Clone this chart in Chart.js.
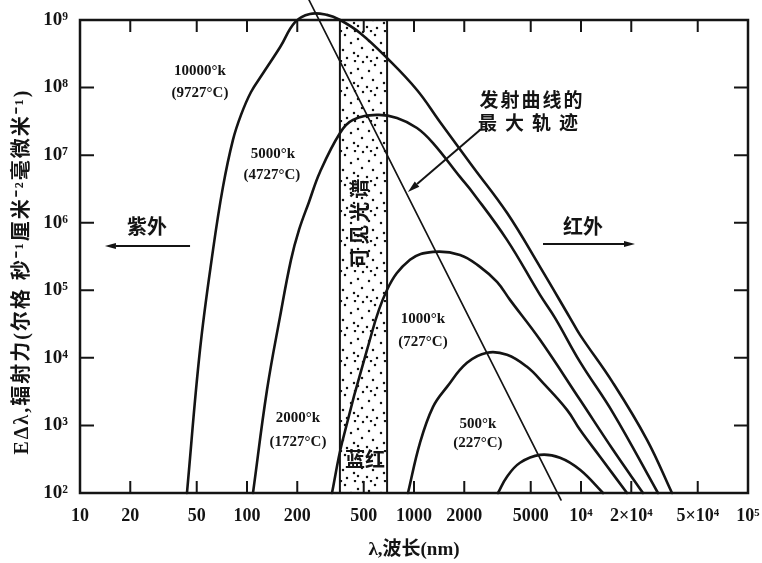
<!DOCTYPE html>
<html>
<head>
<meta charset="utf-8">
<script src="https://cdn.jsdelivr.net/npm/chart.js@4/dist/chart.umd.min.js"></script>
<style>
html,body{margin:0;padding:0;background:#fff;}
#wrap{width:762px;height:563px;position:relative;}
</style>
</head>
<body>
<div id="wrap"><canvas id="c"></canvas></div>
<script>
// ---------- data ----------
// wavelength in nm, emissive power in erg·s⁻¹·cm⁻²·nm⁻¹
const wl10000 = [43.7, 52.3, 62.6, 71.8, 82.4, 92.1, 105.7, 125, 158, 194, 238, 301, 361, 475, 689, 1042, 1431, 2256, 3605, 5683, 8594, 9863, 15545, 24846, 35060];
const em10000 = [100, 1.31e4, 3.96e5, 3.39e6, 1.68e7, 3.94e7, 8.6e7, 1.64e8, 3.98e8, 9.3e8, 1.23e9, 1.19e9, 1.0e9, 6.43e8, 2.74e8, 9.2e7, 3.1e7, 6.69e6, 1.40e6, 2.22e5, 3.91e4, 2.19e4, 4266, 612, 100];

const wl5000 = [108.6, 131.8, 157.6, 183.4, 204.8, 235.1, 273.6, 360.6, 431, 600, 791, 1042, 1300, 1886, 2256, 3605, 5683, 6987, 9863, 15545, 28906];
const em5000 = [100, 3365, 4.04e4, 2.82e5, 7.82e5, 2.03e6, 5.64e6, 2.13e7, 3.32e7, 3.94e7, 3.55e7, 2.52e7, 1.51e7, 4.77e6, 2.76e6, 5.57e5, 8.55e4, 3.91e4, 8730, 1535, 100];

const wl2000 = [322.8, 370.7, 523, 689, 946, 1300, 1886, 2485, 3141, 3757, 5683, 9863, 15545, 23510];
const em2000 = [100, 553, 1.31e4, 1.01e5, 2.82e5, 3.70e5, 3.34e5, 2.22e5, 1.33e5, 7.21e4, 1.85e4, 2393, 436, 100];

const wl1000 = [920, 1086, 1300, 1576, 2077, 2736, 3605, 4749, 5923, 8247, 9863, 13000, 18856];
const em1000 = [100, 553, 1884, 3724, 8435, 1.19e4, 1.11e4, 7362, 4266, 1702, 861, 344, 100];

const wl500 = [3184, 3605, 4313, 5683, 7486, 9863, 13546];
const em500 = [100, 174, 280, 367, 332, 220, 100];

// locus of the maxima of the emission curves
const wlLocus = [235, 7586];
const emLocus = [1.98e9, 79];

// visible spectrum band (nm)
const visibleBand = [360, 690];

// axis ticks
const xTicks = [10, 20, 50, 100, 200, 500, 1000, 2000, 5000, 1e4, 2e4, 5e4, 1e5];
const xTickLabels = ['10', '20', '50', '100', '200', '500', '1000', '2000', '5000', '10⁴', '2×10⁴', '5×10⁴', '10⁵'];
const yTicks = [1e2, 1e3, 1e4, 1e5, 1e6, 1e7, 1e8, 1e9];
const yTickLabels = ['10²', '10³', '10⁴', '10⁵', '10⁶', '10⁷', '10⁸', '10⁹'];

// ---------- annotation layout (in data coordinates) ----------
const curveTexts = [
  ['10000°k', 52.3, 1.76e8], ['(9727°C)', 52.3, 8.3e7],
  ['5000°k', 143, 1.04e7], ['(4727°C)', 141, 5.1e6],
  ['2000°k', 202, 1294], ['(1727°C)', 202, 571],
  ['1000°k', 1132, 3.78e4], ['(727°C)', 1132, 1.73e4],
  ['500°k', 2415, 1057], ['(227°C)', 2415, 553]
];

const ink = '#141414';
const serif = "'Liberation Serif','DejaVu Serif',serif";
const mixed = "'Liberation Serif','Noto Sans CJK SC',sans-serif";

function pairs(xs, ys) { return xs.map((v, i) => ({x: v, y: ys[i]})); }
function lookup(list, labels, v) {
  for (let i = 0; i < list.length; i++) {
    if (Math.abs(Math.log10(list[i]) - Math.log10(v)) < 1e-6) return labels[i];
  }
  return '';
}

function curve(label, xs, ys, width, tension) {
  return {
    label, data: pairs(xs, ys), borderColor: ink, borderWidth: width,
    pointRadius: 0, fill: false, tension: tension,
    capBezierPoints: false, clip: false, borderJoinStyle: 'round', borderCapStyle: 'round'
  };
}

function makePattern(ctx) {
  const t = document.createElement('canvas');
  t.width = 30; t.height = 30;
  const g = t.getContext('2d');
  g.fillStyle = ink;
  const spots = [[3,2],[15,5],[25,1],[9,11],[21,13],[28,9],[2,18],[13,20],[24,23],[7,27],[17,28],[28,26],[11,1]];
  spots.forEach(([a, b]) => { g.beginPath(); g.arc(a, b, 1.25, 0, Math.PI * 2); g.fill(); });
  return ctx.createPattern(t, 'repeat');
}

function arrow(ctx, x1, y1, x2, y2, lw, head, half) {
  const ang = Math.atan2(y2 - y1, x2 - x1);
  const bx = x2 - head * Math.cos(ang), by = y2 - head * Math.sin(ang);
  ctx.lineWidth = lw;
  ctx.beginPath(); ctx.moveTo(x1, y1); ctx.lineTo(bx, by); ctx.stroke();
  ctx.beginPath(); ctx.moveTo(x2, y2);
  ctx.lineTo(bx + half * Math.sin(ang), by - half * Math.cos(ang));
  ctx.lineTo(bx - half * Math.sin(ang), by + half * Math.cos(ang));
  ctx.closePath(); ctx.fill();
}

const bandPlugin = {
  id: 'band',
  beforeDatasetsDraw(chart) {
    const {ctx, chartArea: a, scales: {x}} = chart;
    const l = x.getPixelForValue(visibleBand[0]);
    const r = x.getPixelForValue(visibleBand[1]);
    ctx.save();
    ctx.fillStyle = makePattern(ctx);
    ctx.fillRect(l, a.top, r - l, a.bottom - a.top);
    ctx.strokeStyle = ink; ctx.lineWidth = 2;
    ctx.beginPath();
    ctx.moveTo(l, a.top); ctx.lineTo(l, a.bottom);
    ctx.moveTo(r, a.top); ctx.lineTo(r, a.bottom);
    ctx.stroke();
    ctx.restore();
  }
};

const framePlugin = {
  id: 'frame',
  afterDatasetsDraw(chart) {
    const {ctx, chartArea: a, scales: {x, y}} = chart;
    ctx.save();
    ctx.strokeStyle = ink; ctx.fillStyle = ink;
    ctx.lineWidth = 2.5;
    ctx.strokeRect(a.left, a.top, a.right - a.left, a.bottom - a.top);
    ctx.lineWidth = 2;
    ctx.beginPath();
    xTicks.slice(1, -1).forEach(v => {
      const p = x.getPixelForValue(v);
      ctx.moveTo(p, a.bottom); ctx.lineTo(p, a.bottom - 12);
      ctx.moveTo(p, a.top); ctx.lineTo(p, a.top + 12);
    });
    yTicks.slice(1, -1).forEach(v => {
      const p = y.getPixelForValue(v);
      ctx.moveTo(a.left, p); ctx.lineTo(a.left + 14, p);
      ctx.moveTo(a.right, p); ctx.lineTo(a.right - 14, p);
    });
    ctx.stroke();

    const X = v => x.getPixelForValue(v), Y = v => y.getPixelForValue(v);
    ctx.textAlign = 'center'; ctx.textBaseline = 'middle';

    // temperature labels
    ctx.font = 'bold 15px ' + serif;
    curveTexts.forEach(([t, l, e]) => ctx.fillText(t, X(l), Y(e)));

    // UV / IR
    ctx.font = 'bold 20px ' + mixed;
    ctx.fillText('紫外', X(25.2), Y(8.1e5));
    ctx.fillText('红外', X(10280), Y(8.1e5));
    arrow(ctx, X(45.6), Y(4.54e5), X(14.1), Y(4.54e5), 2, 11, 3);
    arrow(ctx, X(5923), Y(4.86e5), X(21060), Y(4.86e5), 2, 11, 3);

    // locus note
    ctx.font = 'bold 19px ' + mixed;
    ctx.letterSpacing = '2px';
    ctx.fillText('发射曲线的', X(5089), Y(6.1e7));
    ctx.letterSpacing = '8px';
    ctx.fillText('最大轨迹', X(5089), Y(2.8e7));
    ctx.letterSpacing = '0px';
    arrow(ctx, X(2484), Y(2.36e7), X(920), Y(2.86e6), 2, 12, 3.5);

    // band labels
    ctx.font = 'bold 20px ' + mixed;
    ctx.fillText('蓝红', X(509), Y(289));
    ctx.save();
    ctx.translate(X(488), Y(1.03e6));
    ctx.rotate(-Math.PI / 2);
    ctx.letterSpacing = '3px';
    ctx.fillText('可见光谱', 0, 0);
    ctx.restore();

    // y axis title
    ctx.save();
    ctx.translate(a.left - 57, (a.top + a.bottom) / 2 + 15);
    ctx.rotate(-Math.PI / 2);
    ctx.font = 'bold 20px ' + mixed;
    ctx.letterSpacing = '2px';
    ctx.fillText('EΔλ,辐射力(尔格 秒⁻¹厘米⁻²毫微米⁻¹)', 0, 0);
    ctx.restore();

    ctx.restore();
  }
};

new Chart(document.getElementById('c'), {
  type: 'line',
  data: {
    datasets: [
      curve('10000°K', wl10000, em10000, 2.6, 0.4),
      curve('5000°K', wl5000, em5000, 2.6, 0.4),
      curve('2000°K', wl2000, em2000, 2.6, 0.4),
      curve('1000°K', wl1000, em1000, 2.6, 0.4),
      curve('500°K', wl500, em500, 2.6, 0.4),
      curve('locus', wlLocus, emLocus, 1.7, 0)
    ]
  },
  options: {
    responsive: true,
    maintainAspectRatio: false,
    animation: false,
    layout: {padding: {top: 20, right: 14, left: 0, bottom: 0}},
    plugins: {legend: {display: false}, tooltip: {enabled: false}},
    scales: {
      x: {
        type: 'logarithmic', min: 10, max: 1e5,
        grid: {display: false, drawTicks: false},
        border: {display: false},
        afterBuildTicks: s => { s.ticks = xTicks.map(v => ({value: v})); },
        afterFit: s => { s.height = 70; s.paddingLeft = 0; s.paddingRight = 0; },
        ticks: {
          autoSkip: false, maxRotation: 0, minRotation: 0, padding: 13, color: ink,
          font: {family: serif, size: 18, weight: 'bold'},
          callback: v => lookup(xTicks, xTickLabels, v)
        },
        title: {
          display: true, text: 'λ,波长(nm)', color: ink,
          font: {family: mixed, size: 19, weight: 'bold'},
          padding: {top: 0, bottom: 2}
        }
      },
      y: {
        type: 'logarithmic', min: 1e2, max: 1e9,
        grid: {display: false, drawTicks: false},
        border: {display: false},
        afterBuildTicks: s => { s.ticks = yTicks.map(v => ({value: v})); },
        afterFit: s => { s.width = 80; s.paddingTop = 0; s.paddingBottom = 0; },
        ticks: {
          padding: 12, color: ink,
          font: {family: serif, size: 19, weight: 'bold'},
          callback: v => lookup(yTicks, yTickLabels, v)
        }
      }
    }
  },
  plugins: [bandPlugin, framePlugin]
});
</script>
</body>
</html>
